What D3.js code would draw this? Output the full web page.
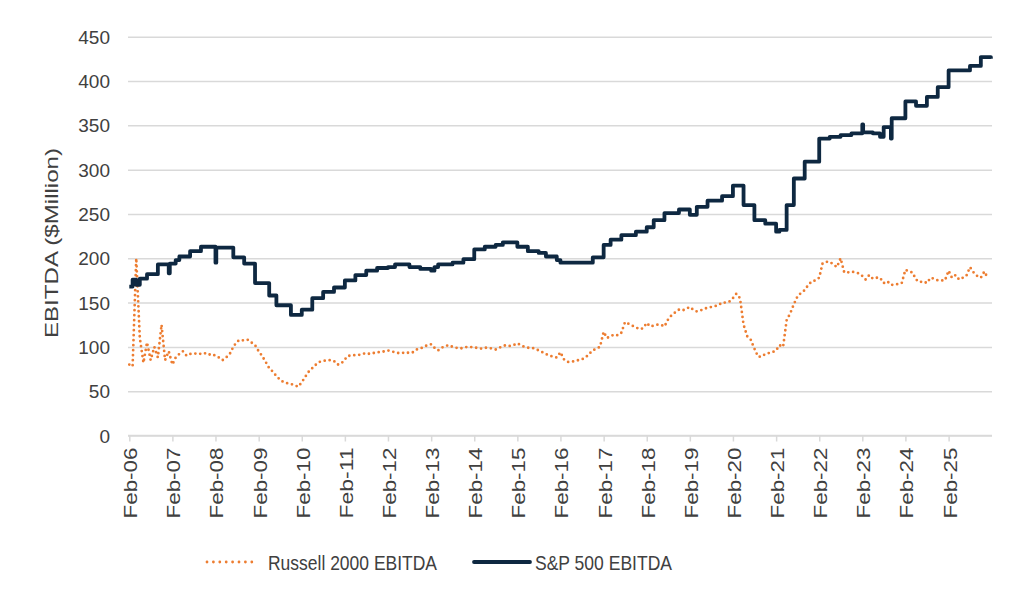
<!doctype html>
<html lang="en">

<head>
	<meta charset="utf-8">
	<title>Russell 2000 vs S&amp;P 500 EBITDA</title>
	<style>
		html, body { margin: 0; padding: 0; background: #fff; }
		svg { display: block; font-family: "Liberation Sans", Arial, sans-serif; }
	</style>
</head>

<body>
	<svg id="ChartArea" width="1024" height="602"></svg>

	<script src="https://cdn.jsdelivr.net/npm/d3@7/dist/d3.min.js"></script>
	<script>
		// Russell 2000 EBITDA, one reading per month starting Feb-06
		var russellStart = "2006-02-01";
		var russellValues = [
			80, 78, 200, 110, 82, 105, 85, 100, 88, 125, 85, 95,
			80, 88, 92, 95, 90, 92, 92, 93, 92, 93, 91, 92,
			90, 88, 85, 88, 92, 100, 106, 108, 107, 108, 105, 102,
			95, 90, 83, 76, 72, 67, 63, 60, 59, 58, 57, 55,
			60, 66, 72, 76, 80, 83, 84, 85, 85, 84, 80, 81,
			86, 90, 90, 91, 91, 92, 93, 92, 93, 94, 94, 95,
			96, 95, 94, 93, 93, 94, 93, 94, 97, 98, 100, 102,
			103, 99, 96, 99, 101, 102, 100, 99, 98, 99, 100, 100,
			99, 99, 98, 99, 99, 98, 97, 99, 101, 102, 101, 102,
			104, 102, 100, 99, 99, 98, 96, 94, 92, 90, 89, 88,
			94, 86, 83, 83, 84, 85, 86, 88, 92, 96, 98, 100,
			117, 110, 112, 114, 113, 116, 128, 126, 124, 122, 120, 121,
			127, 123, 124, 125, 125, 123, 131, 136, 139, 142, 141, 143,
			145, 142, 140, 141, 143, 144, 145, 146, 147, 150, 150, 151,
			155, 160, 155, 125, 112, 108, 98, 89, 89, 92, 93, 94,
			96, 102, 100, 130, 138, 148, 157, 161, 164, 170, 174, 175,
			178, 194, 196, 196, 193, 190, 200, 184, 184, 185, 184, 183,
			180, 176, 181, 177, 178, 178, 172, 174, 170, 170, 171, 172,
			187, 185, 184, 176, 173, 174, 172, 178, 177, 175, 175, 175,
			186, 178, 181, 176, 178, 180, 190, 184, 180, 178, 185, 177
		];

		// S&P 500 EBITDA, changes of level (step line)
		var spDates = [
			"2006-02-01", "2006-03-01", "2006-04-01", "2006-05-01", "2006-07-01", "2006-10-01",
			"2007-01-01", "2007-01-10", "2007-03-01", "2007-04-01", "2007-07-01", "2007-10-01",
			"2008-02-01", "2008-02-08", "2008-07-01", "2008-10-01",
			"2009-01-01", "2009-05-01", "2009-07-01", "2009-11-01",
			"2010-02-01", "2010-05-01", "2010-08-01", "2010-11-01",
			"2011-02-01", "2011-05-01", "2011-08-01", "2011-11-01",
			"2012-02-01", "2012-04-01", "2012-08-01", "2012-11-01",
			"2013-02-01", "2013-03-01", "2013-04-01", "2013-08-01", "2013-11-01",
			"2014-02-01", "2014-05-01", "2014-08-01", "2014-10-01",
			"2015-02-01", "2015-05-01", "2015-08-01", "2015-10-01",
			"2016-01-01", "2016-02-01", "2016-11-01",
			"2017-02-01", "2017-04-01", "2017-07-01", "2017-11-01",
			"2018-02-01", "2018-04-01", "2018-07-01", "2018-11-01",
			"2019-02-01", "2019-04-01", "2019-07-01", "2019-11-01",
			"2020-02-01", "2020-05-01", "2020-08-01", "2020-11-01",
			"2021-02-01", "2021-03-01", "2021-05-01", "2021-07-01", "2021-10-01",
			"2022-02-01", "2022-05-01", "2022-08-01", "2022-11-01",
			"2023-02-01", "2023-02-08", "2023-05-01", "2023-07-01", "2023-08-01", "2023-10-01", "2023-10-08",
			"2024-02-01", "2024-05-01", "2024-08-01", "2024-11-01",
			"2025-02-01", "2025-08-01", "2025-11-01", "2026-01-25"
		];
		var spValues = [
			168, 176, 170, 177, 182, 193,
			183, 194, 198, 202, 208, 213,
			195, 212, 201, 194,
			172, 158, 147, 136,
			142, 155, 162, 167,
			175, 181, 186, 189,
			190, 193, 190, 188,
			186, 190, 193, 195, 199,
			210, 213, 215, 218,
			213, 208, 206, 202,
			198, 195, 201,
			215, 221, 226, 230,
			235, 243, 251, 255,
			249, 258, 265, 270,
			282, 260, 243, 239,
			230, 232, 260, 290, 309,
			335, 337, 339, 341,
			351, 342, 341, 337, 348, 335, 358,
			377, 372, 382, 393,
			412, 417, 427, 425
		];

		var yTicks = [0, 50, 100, 150, 200, 250, 300, 350, 400, 450];
		var seriesNames = ["Russell 2000 EBITDA", "S&P 500 EBITDA"];

		(function () {
			"use strict"

			var DOM = {};
			DOM.svg = d3.select("#ChartArea");

			var parse = d3.timeParse("%Y-%m-%d"),
				start = parse(russellStart),
				end = parse("2026-02-01");

			var russell = russellValues.map(function (v, i) {
				return { date: d3.timeMonth.offset(start, i), value: v };
			});
			var sp = spDates.map(function (d, i) {
				return { date: parse(d), value: spValues[i] };
			});

			var x = d3.scaleTime([start, end], [129.3, 991.7]),
				y = d3.scaleLinear([0, 450], [435.5, 36.7]);

			var textColor = "#404040",
				gridColor = "#d9d9d9",
				orange = "#ED7D31",
				navy = "#0E2841",
				font = "Liberation Sans, Arial, sans-serif";

			// horizontal gridlines + y labels
			var yAxis = DOM.svg.append("g")
				.attr("transform", "translate(128,0)")
				.call(d3.axisLeft(y).tickValues(yTicks).tickSize(-864).tickPadding(18));
			yAxis.select(".domain").remove();
			yAxis.selectAll(".tick line").attr("stroke", gridColor).attr("stroke-width", 1.5);
			yAxis.selectAll(".tick text")
				.attr("fill", textColor)
				.attr("font-size", 19)
				.attr("font-family", font)
				.attr("dy", "0.35em");

			// x axis: line, ticks at each Feb, rotated labels
			var xTicks = d3.range(20).map(function (i) {
				return d3.timeYear.offset(start, i);
			});

			var xAxis = DOM.svg.append("g")
				.attr("transform", "translate(0," + y(0) + ")")
				.call(d3.axisBottom(x).tickValues(xTicks).tickSize(6).tickSizeOuter(0)
					.tickFormat(d3.timeFormat("%b-%y")));
			xAxis.select(".domain").attr("stroke", gridColor).attr("stroke-width", 1.5)
				.attr("d", "M128,0H992");
			xAxis.selectAll(".tick line").attr("stroke", gridColor).attr("stroke-width", 1.5);
			xAxis.selectAll(".tick text")
				.attr("fill", textColor)
				.attr("font-size", 19)
				.attr("font-family", font)
				.attr("text-anchor", "end")
				.attr("dy", null)
				.attr("x", 0)
				.attr("y", 0)
				.attr("textLength", 71)
				.attr("lengthAdjust", "spacingAndGlyphs")
				.attr("transform", "translate(7.5,12) rotate(-90)");

			// y axis title
			DOM.svg.append("text")
				.attr("transform", "translate(58,243) rotate(-90)")
				.attr("text-anchor", "middle")
				.attr("fill", textColor)
				.attr("font-size", 19)
				.attr("textLength", 190)
				.attr("lengthAdjust", "spacingAndGlyphs")
				.text("EBITDA ($Million)");

			// Russell 2000, dotted
			DOM.svg.append("path")
				.datum(russell)
				.attr("fill", "none")
				.attr("stroke", orange)
				.attr("stroke-width", 2.8)
				.attr("stroke-linecap", "round")
				.attr("stroke-dasharray", "0,5")
				.attr("d", d3.line().x(function (d) { return x(d.date); }).y(function (d) { return y(d.value); }));

			// S&P 500, step line
			DOM.svg.append("path")
				.datum(sp)
				.attr("fill", "none")
				.attr("stroke", navy)
				.attr("stroke-width", 3.8)
				.attr("stroke-linejoin", "round")
				.attr("d", d3.line().curve(d3.curveStepAfter)
					.x(function (d) { return x(d.date); }).y(function (d) { return y(d.value); }));

			// legend
			var legend = DOM.svg.append("g").attr("transform", "translate(0,562)");
			legend.append("line")
				.attr("x1", 207).attr("x2", 258).attr("y1", 0).attr("y2", 0)
				.attr("stroke", orange).attr("stroke-width", 2.8)
				.attr("stroke-linecap", "round").attr("stroke-dasharray", "0,6.4");
			legend.append("text")
				.attr("x", 268).attr("y", 7.5)
				.attr("fill", textColor).attr("font-size", 21)
				.attr("textLength", 169).attr("lengthAdjust", "spacingAndGlyphs")
				.text(seriesNames[0]);
			legend.append("line")
				.attr("x1", 474).attr("x2", 530).attr("y1", 0).attr("y2", 0)
				.attr("stroke", navy).attr("stroke-width", 3.8)
				.attr("stroke-linecap", "round");
			legend.append("text")
				.attr("x", 535).attr("y", 7.5)
				.attr("fill", textColor).attr("font-size", 21)
				.attr("textLength", 137).attr("lengthAdjust", "spacingAndGlyphs")
				.text(seriesNames[1]);
		})();
	</script>
</body>

</html>
